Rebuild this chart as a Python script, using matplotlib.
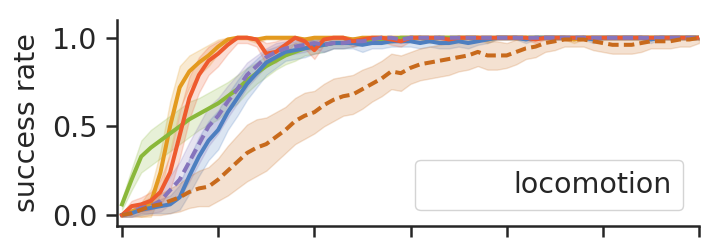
import numpy as np
import matplotlib
matplotlib.use("Agg")
import matplotlib.pyplot as plt
from matplotlib.lines import Line2D

steps = np.round(np.arange(0, 6.01, 0.1), 1)

orange = [0.00, 0.02, 0.03, 0.07, 0.24, 0.50, 0.72, 0.81, 0.86, 0.90,
          0.95, 0.99, 1.00, 1.00, 0.99, 1.00, 1.00, 1.00, 1.00, 0.99,
          1.00, 1.00, 1.00, 1.00, 0.99, 1.00, 1.00, 1.00, 1.00, 1.00,
          1.00, 1.00, 0.99, 1.00, 1.00, 1.00, 1.00, 1.00, 0.99, 1.00,
          1.00, 1.00, 1.00, 1.00, 1.00, 1.00, 1.00, 0.99, 1.00, 1.00,
          1.00, 1.00, 1.00, 1.00, 1.00, 1.00, 1.00, 1.00, 1.00, 1.00, 1.00]
orange_sd = [0.01, 0.02, 0.04, 0.08, 0.12, 0.14, 0.12, 0.09, 0.07, 0.06,
             0.04, 0.02, 0.01, 0.01, 0.02, 0.01, 0.01, 0.01, 0.01, 0.02,
             0.01, 0.01, 0.01, 0.01, 0.02, 0.01, 0.01, 0.01, 0.01, 0.01,
             0.01, 0.01, 0.02, 0.01, 0.01, 0.01, 0.01, 0.01, 0.02, 0.01,
             0.01, 0.01, 0.01, 0.01, 0.01, 0.01, 0.01, 0.02, 0.01, 0.01,
             0.01, 0.01, 0.01, 0.01, 0.01, 0.01, 0.01, 0.01, 0.01, 0.01, 0.01]

red = [0.00, 0.05, 0.06, 0.08, 0.13, 0.24, 0.45, 0.66, 0.79, 0.87,
       0.91, 0.96, 1.00, 1.00, 0.99, 0.91, 0.92, 0.96, 1.00, 0.98,
       0.93, 0.99, 1.00, 1.00, 0.98, 0.99, 1.00, 1.00, 0.99, 0.98,
       1.00, 1.00, 1.00, 1.00, 0.99, 1.00, 1.00, 1.00, 1.00, 1.00,
       1.00, 1.00, 1.00, 0.99, 1.00, 1.00, 1.00, 1.00, 1.00, 1.00,
       1.00, 1.00, 1.00, 1.00, 1.00, 1.00, 1.00, 1.00, 1.00, 1.00, 1.00]
red_sd = [0.01, 0.03, 0.04, 0.05, 0.07, 0.10, 0.13, 0.12, 0.10, 0.08,
          0.07, 0.05, 0.03, 0.03, 0.04, 0.06, 0.06, 0.05, 0.03, 0.04,
          0.05, 0.03, 0.02, 0.02, 0.03, 0.02, 0.02, 0.02, 0.03, 0.03,
          0.02, 0.02, 0.02, 0.02, 0.02, 0.01, 0.01, 0.01, 0.01, 0.01,
          0.01, 0.01, 0.01, 0.02, 0.01, 0.01, 0.01, 0.01, 0.01, 0.01,
          0.01, 0.01, 0.01, 0.01, 0.01, 0.01, 0.01, 0.01, 0.01, 0.01, 0.01]

green = [0.06, 0.20, 0.33, 0.38, 0.42, 0.46, 0.50, 0.54, 0.57, 0.60,
         0.63, 0.67, 0.71, 0.76, 0.80, 0.84, 0.87, 0.90, 0.92, 0.94,
         0.95, 0.96, 0.97, 0.97, 0.98, 0.98, 0.99, 0.99, 0.99, 1.00,
         1.00, 1.00, 1.00, 1.00, 1.00, 1.00, 1.00, 1.00, 1.00, 1.00,
         1.00, 1.00, 1.00, 1.00, 1.00, 1.00, 1.00, 1.00, 1.00, 1.00,
         1.00, 1.00, 1.00, 1.00, 1.00, 1.00, 1.00, 1.00, 1.00, 1.00, 1.00]
green_sd = [0.03, 0.06, 0.09, 0.10, 0.10, 0.10, 0.10, 0.10, 0.09, 0.09,
            0.09, 0.08, 0.08, 0.07, 0.06, 0.06, 0.05, 0.05, 0.05, 0.04,
            0.04, 0.04, 0.03, 0.03, 0.03, 0.02, 0.02, 0.02, 0.02, 0.01,
            0.01, 0.01, 0.01, 0.01, 0.01, 0.01, 0.01, 0.01, 0.01, 0.01,
            0.01, 0.01, 0.01, 0.01, 0.01, 0.01, 0.01, 0.01, 0.01, 0.01,
            0.01, 0.01, 0.01, 0.01, 0.01, 0.01, 0.01, 0.01, 0.01, 0.01, 0.01]

blue = [0.00, 0.01, 0.03, 0.04, 0.05, 0.06, 0.10, 0.22, 0.33, 0.42,
        0.48, 0.58, 0.66, 0.74, 0.80, 0.86, 0.89, 0.92, 0.93, 0.94,
        0.95, 0.96, 0.97, 0.97, 0.97, 0.96, 0.97, 0.97, 0.98, 0.98,
        0.98, 0.97, 0.98, 0.97, 0.97, 0.98, 0.97, 0.98, 0.99, 1.00,
        1.00, 1.00, 0.99, 1.00, 1.00, 1.00, 1.00, 1.00, 1.00, 0.99,
        1.00, 1.00, 1.00, 1.00, 1.00, 0.99, 1.00, 1.00, 1.00, 1.00, 1.00]
blue_sd = [0.01, 0.02, 0.03, 0.03, 0.04, 0.05, 0.07, 0.10, 0.11, 0.11,
           0.11, 0.10, 0.10, 0.09, 0.08, 0.07, 0.06, 0.05, 0.05, 0.05,
           0.04, 0.04, 0.03, 0.03, 0.03, 0.04, 0.03, 0.03, 0.03, 0.03,
           0.03, 0.03, 0.03, 0.03, 0.03, 0.03, 0.03, 0.02, 0.02, 0.01,
           0.01, 0.01, 0.02, 0.01, 0.01, 0.01, 0.01, 0.01, 0.01, 0.02,
           0.01, 0.01, 0.01, 0.01, 0.01, 0.02, 0.01, 0.01, 0.01, 0.01, 0.01]

purple = [0.00, 0.01, 0.04, 0.05, 0.08, 0.14, 0.20, 0.30, 0.40, 0.50,
          0.56, 0.64, 0.71, 0.79, 0.84, 0.89, 0.92, 0.94, 0.95, 0.96,
          0.97, 0.96, 0.97, 0.97, 0.98, 0.98, 0.99, 1.00, 1.00, 0.99,
          1.00, 1.00, 1.00, 1.00, 1.00, 1.00, 1.00, 1.00, 1.00, 1.00,
          1.00, 1.00, 1.00, 1.00, 1.00, 1.00, 1.00, 1.00, 1.00, 1.00,
          1.00, 1.00, 1.00, 1.00, 1.00, 1.00, 1.00, 1.00, 1.00, 1.00, 1.00]
purple_sd = [0.01, 0.02, 0.03, 0.04, 0.06, 0.08, 0.10, 0.11, 0.11, 0.11,
             0.10, 0.09, 0.08, 0.07, 0.06, 0.05, 0.05, 0.04, 0.04, 0.04,
             0.03, 0.04, 0.03, 0.03, 0.03, 0.02, 0.02, 0.01, 0.01, 0.02,
             0.01, 0.01, 0.01, 0.01, 0.01, 0.01, 0.01, 0.01, 0.01, 0.01,
             0.01, 0.01, 0.01, 0.01, 0.01, 0.01, 0.01, 0.01, 0.01, 0.01,
             0.01, 0.01, 0.01, 0.01, 0.01, 0.01, 0.01, 0.01, 0.01, 0.01, 0.01]

brown = [0.00, 0.01, 0.03, 0.05, 0.06, 0.08, 0.10, 0.13, 0.15, 0.16,
         0.20, 0.25, 0.30, 0.35, 0.38, 0.40, 0.44, 0.48, 0.53, 0.56,
         0.58, 0.62, 0.65, 0.67, 0.68, 0.71, 0.74, 0.77, 0.81, 0.80,
         0.83, 0.85, 0.86, 0.87, 0.88, 0.89, 0.90, 0.92, 0.90, 0.90,
         0.90, 0.92, 0.94, 0.95, 0.97, 0.98, 0.99, 0.99, 0.99, 0.98,
         0.97, 0.96, 0.96, 0.96, 0.97, 0.98, 0.98, 0.98, 0.99, 0.99, 1.00]
brown_sd = [0.01, 0.02, 0.04, 0.05, 0.06, 0.07, 0.08, 0.09, 0.10, 0.11,
            0.12, 0.14, 0.15, 0.16, 0.16, 0.15, 0.14, 0.13, 0.13, 0.13,
            0.12, 0.12, 0.12, 0.11, 0.11, 0.11, 0.10, 0.10, 0.10, 0.10,
            0.09, 0.09, 0.09, 0.09, 0.09, 0.08, 0.08, 0.08, 0.08, 0.08,
            0.07, 0.07, 0.06, 0.06, 0.05, 0.05, 0.04, 0.04, 0.04, 0.05,
            0.05, 0.05, 0.05, 0.05, 0.05, 0.04, 0.04, 0.04, 0.04, 0.04, 0.03]

legend_label = "locomotion"
ytick_vals = [0.0, 0.5, 1.0]
ytick_labels = ["0.0", "0.5", "1.0"]
xtick_vals = [0, 1, 2, 3, 4, 5, 6]

series = [
    (orange, orange_sd, "#e39a1f", "-"),
    (green, green_sd, "#8ab83a", "-"),
    (blue, blue_sd, "#4e7fc0", "-"),
    (red, red_sd, "#ee5a2e", "-"),
    (purple, purple_sd, "#8674bc", "--"),
    (brown, brown_sd, "#c86a1c", "--"),
]

FS = 20.5
TXT = "#262626"
plt.rcParams['font.family'] = ['DejaVu Sans']
fig = plt.figure(figsize=(7.19, 2.47), dpi=100)
ax = fig.add_axes([117/719, 1-226/247, (699-117)/719, (226-20)/247])

for vals, sd, col, ls in series:
    v = np.array(vals)
    s = np.array(sd)
    ax.fill_between(steps, v - s, np.minimum(v + s, 1.0), color=col, alpha=0.2, lw=1)
for vals, sd, col, ls in series:
    if ls == "--":
        ax.plot(steps, vals, color=col, lw=2.9, ls=(0, (2.6, 1.3)))
    else:
        ax.plot(steps, vals, color=col, lw=2.9)

ax.set_xlim(-0.052, 6.0)
ax.set_ylim(-0.062, 1.10)
ax.set_yticks(ytick_vals)
ax.set_yticklabels(ytick_labels)
ax.set_xticks(xtick_vals)
ax.set_xticklabels([])
for sp in ["top", "right"]:
    ax.spines[sp].set_visible(False)
for sp in ["left", "bottom"]:
    ax.spines[sp].set_linewidth(1.8)
    ax.spines[sp].set_color(TXT)
ax.tick_params(axis="both", length=8, width=1.8, color=TXT,
               labelsize=FS, labelcolor=TXT, pad=6)
ax.set_ylabel("success rate", fontsize=FS, color=TXT, labelpad=8)

h = Line2D([], [], color="none")
leg = ax.legend([h], [legend_label], loc="lower right", fontsize=FS,
                handlelength=2.25, frameon=True, borderaxespad=0.55,
                fancybox=True, framealpha=1.0, edgecolor="#d4d4d4",
                labelcolor=TXT)

fig.savefig("out.png", dpi=100)
